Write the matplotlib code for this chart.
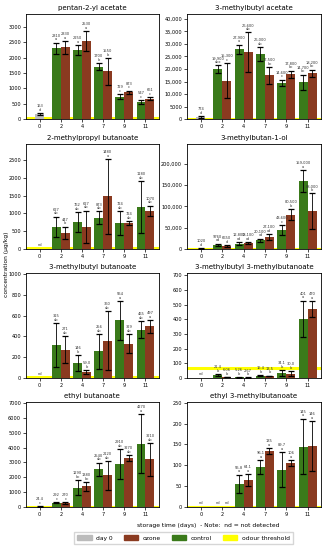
import matplotlib
matplotlib.use("Agg")
import matplotlib.pyplot as plt
from matplotlib.patches import Patch
from matplotlib.ticker import FuncFormatter

# storage days and compounds
days = ["0", "2", "4", "7", "9", "11"]
titles = ["pentan-2-yl acetate", "3-methylbutyl acetate",
          "2-methylpropyl butanoate", "3-methylbutan-1-ol",
          "3-methylbutyl butanoate", "3-methylbutyl 3-methylbutanoate",
          "ethyl butanoate", "ethyl 3-methylbutanoate"]

# day 0 (None = not detected)
day0_vals = [163, 774, None, 1020, None, None, 24.4, None]
day0_err = [40, 400, 0, 300, 0, 0, 15, 0]
day0_letters = ["d", "d", "", "d", "", "", "c", ""]

# control, days 2..11
ctrl_vals = [[2310, 2250, 1700, 729, 547],
             [19900, 27900, 26000, 14600, 14700],
             [627, 762, 873, 724, 1180],
             [9760, 12800, 20100, 43600, 159000],
             [315, 146, 256, 554, 465],
             [21.4, 5.26, 16.4, 34.1, 401],
             [292, 1290, 2540, 2910, 4270],
             [None, 55.8, 96.1, 89.7, 145]]
ctrl_err = [[180, 150, 120, 80, 60],
            [1500, 1800, 2800, 1200, 3000],
            [280, 280, 180, 330, 720],
            [3000, 2500, 4000, 12000, 25000],
            [210, 75, 165, 185, 85],
            [5, 2, 5, 18, 125],
            [50, 500, 450, 1000, 2000],
            [0, 22, 17, 42, 67]]
ctrl_letters = [["a", "a", "b", "c", "c"],
                ["abc", "a", "ab", "c", "bc"],
                ["ab", "ab", "ab", "ab", "ab"],
                ["cd", "cd", "cd", "c", "a"],
                ["ab", "b", "ab", "a", "ab"],
                ["b", "b", "b", "b", "a"],
                ["c", "bc", "ab", "ab", "a"],
                ["", "a", "a", "a", "a"]]

# ozone, days 2..11
ozone_vals = [[2330, 2530, 1550, 873, 661],
              [15300, 26600, 17500, 17800, 18200],
              [447, 627, 1480, 724, 1070],
              [6650, 13100, 27100, 80500, 88000],
              [271, 59.0, 360, 329, 497],
              [6.06, 2.67, 13.5, 30.0, 470],
              [270, 1380, 2120, 3270, 3210],
              [None, 64.1, 135, 106, 146]]
ozone_err = [[200, 330, 430, 50, 50],
             [7000, 8000, 3300, 1500, 1500],
             [180, 450, 1050, 60, 150],
             [3000, 2500, 7000, 13000, 42000],
             [130, 20, 280, 90, 60],
             [2, 1, 3, 15, 55],
             [40, 300, 950, 200, 1100],
             [0, 14, 7, 7, 60]]
ozone_letters = [["a", "a", "b", "c", "c"],
                 ["c", "ab", "bc", "bc", "bc"],
                 ["b", "ab", "a", "ab", "ab"],
                 ["d", "cd", "cd", "b", "b"],
                 ["ab", "b", "ab", "ab", "a"],
                 ["b", "b", "b", "b", "a"],
                 ["c", "bc", "ab", "ab", "ab"],
                 ["", "a", "a", "a", "a"]]

thresholds = [25, 2, 20, 250, 10, 65, 1, 0.1]
ymax = [3420, 42000, 2950, 246000, 1010, 715, 7070, 252]

C_CTRL = "#3a7a1a"
C_OZ = "#8a3a20"
C_DAY0 = "#bbbbbb"
C_THR = "#ffff00"


def fmt_num(v):
    if v >= 10000:
        return f"{v:,.0f}"
    if v >= 100:
        return f"{v:.0f}"
    if v >= 10:
        return f"{v:.1f}"
    return f"{v:.2f}"


def fmt_tick(v, pos):
    if v >= 10000:
        return f"{v:,.0f}"
    return f"{v:.0f}"


fig = plt.figure(figsize=(3.28, 5.5), dpi=100)

col_left = [0.079, 0.570]
col_w = [0.405, 0.409]
row_bottom = [0.7836, 0.5473, 0.3127, 0.0782]
row_h = 0.191

w = 0.42
for k, title in enumerate(titles):
    r, c = divmod(k, 2)
    ax = fig.add_axes([col_left[c], row_bottom[r], col_w[c], row_h])
    ymx = ymax[k]
    off = ymx * 0.012

    ax.axhline(thresholds[k], color=C_THR, lw=2.2, zorder=1)

    def annotate(x, v, e, letter):
        if v is None:
            ax.text(x, ymx * 0.02, "nd", ha="center", va="bottom",
                    fontsize=2.6, color="#333333")
            return
        ax.text(x, v + e + off, f"{fmt_num(v)}\n{letter}", ha="center",
                va="bottom", fontsize=2.6, color="#333333", linespacing=0.9)

    # day 0
    v0 = day0_vals[k]
    if v0 is not None:
        ax.bar(0, v0, w, color=C_DAY0, zorder=2)
        ax.errorbar(0, v0, yerr=day0_err[k], fmt="none", ecolor="black",
                    elinewidth=0.6, capsize=2, capthick=0.9, zorder=3)
    annotate(0, v0, day0_err[k], day0_letters[k])

    for i in range(5):
        x = i + 1
        for val, err, let, dx, col in (
                (ctrl_vals[k][i], ctrl_err[k][i], ctrl_letters[k][i], -w / 2, C_CTRL),
                (ozone_vals[k][i], ozone_err[k][i], ozone_letters[k][i], w / 2, C_OZ)):
            if val is not None:
                ax.bar(x + dx, val, w, color=col, zorder=2)
                ax.errorbar(x + dx, val, yerr=err, fmt="none", ecolor="black",
                            elinewidth=0.6, capsize=2, capthick=0.9, zorder=3)
            annotate(x + dx, val, err, let)

    ax.set_xlim(-0.65, 5.63)
    ax.set_ylim(0, ymx)
    ax.set_xticks(range(6))
    ax.set_xticklabels(days)
    ax.yaxis.set_major_formatter(FuncFormatter(fmt_tick))
    ax.tick_params(labelsize=3.6, length=2, width=0.5, pad=1.5)
    for s in ax.spines.values():
        s.set_linewidth(0.6)
    ax.set_title(title, fontsize=5, pad=3)

fig.text(0.012, 0.52, "concentration (µg/kg)", rotation=90, ha="left",
         va="center", fontsize=4.3)
fig.text(208 / 328, 1 - 525 / 550,
         "storage time (days)  - Note:  nd = not detected",
         ha="center", va="center", fontsize=4.3)

handles = [Patch(color=C_DAY0, label="day 0"),
           Patch(color=C_OZ, label="ozone"),
           Patch(color=C_CTRL, label="control"),
           Patch(color=C_THR, label="odour threshold")]
fig.legend(handles=handles, loc="center", bbox_to_anchor=(183.5 / 328, 1 - 538 / 550),
           ncol=4, fontsize=4.3, frameon=True, handlelength=2.4, handleheight=0.8,
           handletextpad=0.8, columnspacing=1.8, borderpad=0.5, fancybox=False,
           edgecolor="#cccccc")

fig.savefig("out.png", dpi=100)
